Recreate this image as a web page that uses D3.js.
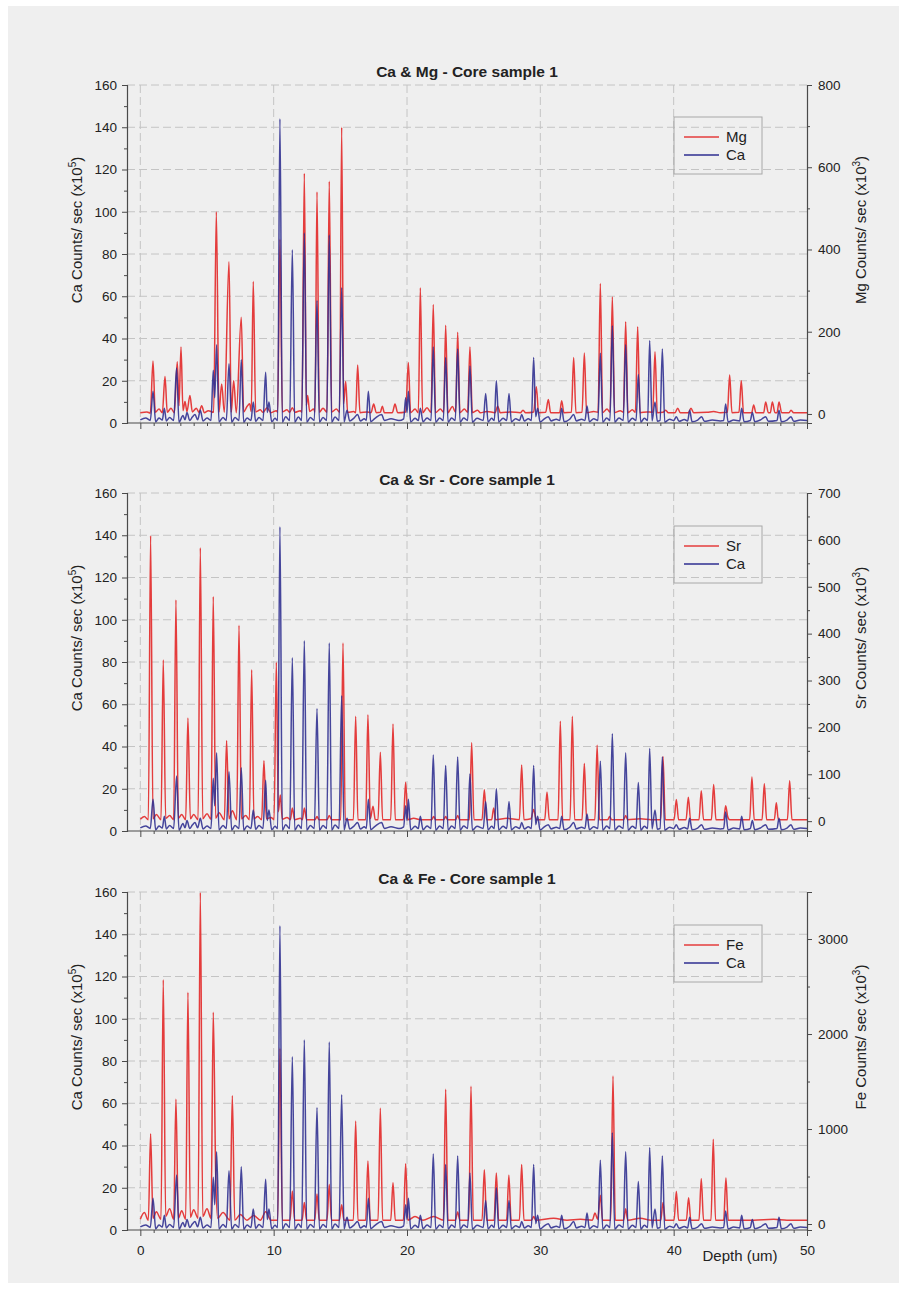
<!DOCTYPE html>
<html>
<head>
<meta charset="utf-8">
<script src="https://cdn.jsdelivr.net/npm/d3@7"></script>
<style>
  html, body { margin: 0; padding: 0; background: #ffffff; }
  svg { display: block; font-family: "Liberation Sans", Arial, sans-serif; }
</style>
</head>
<body>
<svg id="chart" width="907" height="1289"></svg>
<script>
// Depth axis (um)
const depthDomain = [-1, 50];
const depthMajorTicks = [0, 10, 20, 30, 40, 50];

// Ca axis (x10^5 counts/sec), shared by every panel
const caDomain = [0, 160];
const caMajorTicks = [0, 20, 40, 60, 80, 100, 120, 140, 160];

// Ca counts/sec (x10^5) against depth (um)
const caSeries = [
  [0,1.5],[0.4,2.4],[0.75,1.2],[0.95,15],[1.15,0.5],[1.4,2.4],[1.65,1.4],[1.8,7],[1.95,1.0],[2.2,2.6],[2.5,1.2],[2.72,26],[2.9,0.4],[3.2,3.5],[3.35,1.5],[3.5,5],[3.7,1.2],[3.9,2.8],[4.1,4],[4.3,1.5],[4.5,6],[4.7,1.0],[5.0,2.4],[5.3,1.2],[5.47,25],[5.58,12],[5.72,37],[5.9,0.5],[6.2,2.6],[6.45,1.2],[6.65,28],[6.85,0.4],[7.1,2.6],[7.4,1.2],[7.57,30],[7.75,0.4],[8.0,2.4],[8.3,1.2],[8.47,10],[8.65,0.8],[8.9,2.6],[9.2,1.2],[9.4,24],[9.52,5],[9.65,10],[9.85,0.6],[10.1,2.2],[10.3,1.2],[10.47,144],[10.65,0.4],[10.9,3.0],[11.2,1.2],[11.4,82],[11.58,0.4],[11.85,2.8],[12.1,1.2],[12.3,90],[12.48,0.4],[12.75,2.6],[13.05,1.2],[13.25,58],[13.43,0.4],[13.7,2.6],[13.98,1.2],[14.17,89],[14.35,0.4],[14.6,2.8],[14.9,1.2],[15.1,64],[15.28,0.5],[15.5,6],[15.7,1.0],[16.0,2.2],[16.3,4],[16.5,1.0],[16.8,2.0],[16.95,1.2],[17.1,15],[17.28,0.6],[17.6,2.2],[18.1,4],[18.3,1.2],[18.8,2.0],[19.4,1.2],[19.75,2],[19.9,12],[20.0,5],[20.1,15],[20.28,0.5],[20.6,2.2],[20.85,1.2],[21.0,7],[21.2,0.6],[21.5,2.4],[21.8,1.2],[21.97,36],[22.15,0.4],[22.45,2.4],[22.72,1.2],[22.9,31],[23.08,0.4],[23.35,2.4],[23.62,1.2],[23.8,35],[23.98,0.4],[24.25,2.4],[24.55,1.2],[24.72,27],[24.9,0.4],[25.25,2.2],[25.72,1.2],[25.9,14],[26.08,0.5],[26.35,2.2],[26.55,1.2],[26.7,20],[26.88,0.5],[27.2,2.2],[27.48,1.2],[27.65,14],[27.83,0.5],[28.15,2.0],[28.45,1.2],[28.6,4],[28.8,1.0],[29.1,2.0],[29.33,1.2],[29.5,31],[29.65,3],[29.8,7],[29.98,0.5],[30.3,2.0],[30.6,3],[30.8,1.0],[31.2,1.8],[31.45,1.2],[31.6,7],[31.78,0.6],[32.2,1.8],[32.5,4],[32.7,1.0],[33.1,1.8],[33.35,1.2],[33.5,8],[33.68,0.6],[34.0,2.0],[34.32,1.2],[34.5,33],[34.68,0.4],[34.98,2.4],[35.22,1.2],[35.4,46],[35.58,0.4],[35.9,2.4],[36.22,1.2],[36.4,37],[36.58,0.4],[36.9,2.2],[37.18,1.2],[37.35,23],[37.53,0.4],[37.8,2.2],[38.05,1.2],[38.2,39],[38.38,1.0],[38.6,10],[38.78,0.8],[38.98,1.2],[39.15,35],[39.33,0.4],[39.7,1.8],[40.0,1.2],[40.2,3],[40.4,0.8],[40.8,1.6],[41.05,1.0],[41.2,6],[41.38,0.6],[41.8,1.4],[42.1,3],[42.3,0.8],[42.9,1.4],[43.5,1.0],[43.75,1.2],[43.9,9],[44.08,0.5],[44.5,1.4],[44.95,1.0],[45.1,7],[45.28,0.6],[45.75,1.2],[45.9,5],[46.08,0.6],[46.5,1.4],[46.9,3],[47.1,0.8],[47.75,1.2],[47.9,6],[48.08,0.6],[48.5,1.4],[48.8,3],[49.0,0.8],[49.5,1.4],[50,1.2]
];

// Mg counts/sec (x10^3) against depth (um)
const mgSeries = [
  [0,3],[0.5,5],[0.75,2],[0.95,129],[1.12,4],[1.4,12],[1.65,3],[1.85,91],[2.02,4],[2.3,14],[2.55,3],[2.77,127],[2.9,20],[3.05,163],[3.2,8],[3.35,30],[3.5,6],[3.72,45],[3.9,5],[4.2,14],[4.4,4],[4.6,20],[4.8,3],[5.1,8],[5.5,4],[5.7,492],[5.9,5],[6.1,73],[6.3,4],[6.65,370],[6.82,4],[7.0,81],[7.2,3],[7.57,235],[7.75,5],[8.0,18],[8.2,25],[8.32,6],[8.47,322],[8.65,5],[9.0,10],[9.2,4],[9.5,15],[9.8,3],[10.2,8],[10.3,4],[10.47,425],[10.65,5],[11.0,10],[11.2,4],[11.4,15],[11.6,4],[12.0,8],[12.12,4],[12.3,585],[12.45,20],[12.55,45],[12.7,6],[13.0,12],[13.1,4],[13.25,540],[13.42,4],[13.7,14],[14.0,4],[14.17,566],[14.35,5],[14.7,12],[14.95,4],[15.1,697],[15.25,25],[15.4,79],[15.55,4],[16.0,6],[16.15,3],[16.3,119],[16.47,3],[17.0,5],[17.3,3],[17.5,24],[17.7,3],[18.0,4],[18.15,19],[18.3,3],[18.9,3],[19.1,24],[19.3,3],[19.9,5],[20.1,125],[20.27,3],[20.6,12],[20.85,3],[21.0,307],[21.17,3],[21.5,15],[21.8,4],[21.97,266],[22.14,3],[22.5,12],[22.75,4],[22.9,216],[23.07,3],[23.4,18],[23.65,4],[23.8,199],[23.97,3],[24.3,12],[24.55,4],[24.72,163],[24.9,3],[25.3,9],[25.5,3],[26.0,6],[26.6,3],[26.8,19],[27.0,3],[27.8,5],[28.5,3],[28.7,9],[28.9,3],[29.5,5],[29.7,66],[29.87,3],[30.4,4],[30.6,35],[30.77,3],[31.45,3],[31.6,32],[31.77,3],[32.33,4],[32.5,137],[32.67,3],[33.13,4],[33.3,148],[33.47,3],[34.0,6],[34.33,4],[34.5,317],[34.67,3],[35.0,12],[35.23,4],[35.4,285],[35.57,3],[36.0,8],[36.23,4],[36.4,224],[36.57,3],[36.9,10],[37.13,4],[37.3,212],[37.47,3],[38.0,5],[38.43,4],[38.6,151],[38.77,3],[39.2,4],[39.4,9],[39.6,3],[40.1,3],[40.3,14],[40.5,3],[41.1,3],[41.3,14],[41.5,3],[42.5,4],[43.0,6],[43.5,3],[44.03,4],[44.2,95],[44.37,3],[44.9,4],[45.07,81],[45.24,3],[45.85,3],[46.0,22],[46.17,3],[46.75,3],[46.9,29],[47.1,3],[47.25,3],[47.4,29],[47.6,3],[47.75,3],[47.9,29],[48.1,3],[48.65,3],[48.8,9],[49.0,3],[50,3]
];

// Sr counts/sec (x10^3) against depth (um)
const srSeries = [
  [0,4],[0.3,10],[0.6,3],[0.77,609],[0.95,5],[1.2,14],[1.55,3],[1.72,344],[1.9,6],[2.2,12],[2.5,3],[2.67,472],[2.85,6],[3.1,14],[3.4,3],[3.57,220],[3.75,5],[4.0,14],[4.33,3],[4.5,583],[4.68,5],[5.0,16],[5.3,4],[5.47,479],[5.65,6],[5.9,18],[6.3,3],[6.47,172],[6.65,5],[6.9,22],[7.23,3],[7.4,418],[7.58,5],[7.9,12],[8.18,3],[8.35,323],[8.52,5],[8.8,10],[9.1,3],[9.27,129],[9.45,5],[9.8,8],[10.03,3],[10.2,339],[10.35,20],[10.5,56],[10.65,4],[11.0,8],[11.25,3],[11.4,28],[11.57,3],[12.0,6],[12.15,3],[12.3,28],[12.47,3],[13.1,3],[13.25,10],[13.4,3],[14.0,3],[14.17,12],[14.35,3],[15.03,3],[15.2,380],[15.37,3],[15.98,3],[16.15,224],[16.32,3],[16.9,3],[17.07,227],[17.25,5],[17.45,32],[17.62,3],[17.83,3],[18.0,147],[18.17,3],[18.78,3],[18.95,207],[19.12,3],[19.73,3],[19.9,83],[20.07,3],[20.5,6],[21.0,3],[21.85,3],[22.0,10],[22.15,3],[22.75,3],[22.9,10],[23.05,3],[23.65,3],[23.8,12],[23.95,3],[24.68,3],[24.85,167],[25.02,3],[25.63,3],[25.8,67],[25.97,3],[26.35,3],[26.5,28],[26.65,3],[27.5,6],[28.43,3],[28.6,120],[28.77,3],[29.3,5],[29.5,25],[29.7,3],[30.33,3],[30.5,62],[30.67,3],[31.33,3],[31.5,213],[31.67,3],[32.23,3],[32.4,224],[32.57,3],[33.13,3],[33.3,123],[33.47,3],[34.09,3],[34.26,162],[34.43,3],[35.05,3],[35.2,10],[35.35,3],[36.25,3],[36.4,12],[36.55,3],[37.5,5],[38.3,3],[39.03,3],[39.2,138],[39.37,3],[40.03,3],[40.2,46],[40.37,3],[40.93,3],[41.1,51],[41.27,3],[41.9,3],[42.07,65],[42.24,3],[42.83,3],[43.0,78],[43.17,3],[43.75,3],[43.9,33],[44.05,10],[44.2,3],[45.7,3],[45.87,94],[46.04,3],[46.63,3],[46.8,80],[46.97,3],[47.55,3],[47.7,39],[47.85,3],[48.53,3],[48.7,86],[48.87,3],[50,3]
];

// Fe counts/sec (x10^3) against depth (um)
const feSeries = [
  [0,50],[0.3,120],[0.6,40],[0.77,951],[0.95,60],[1.2,130],[1.55,50],[1.72,2572],[1.9,80],[2.2,160],[2.5,50],[2.67,1317],[2.85,60],[3.1,140],[3.4,50],[3.57,2439],[3.75,70],[4.0,150],[4.33,60],[4.5,3490],[4.68,80],[5.0,160],[5.3,60],[5.47,2228],[5.65,540],[5.8,60],[6.2,120],[6.72,40],[6.9,1354],[7.08,40],[7.5,100],[8.0,40],[8.5,90],[9.0,40],[9.4,130],[9.8,40],[10.3,40],[10.47,1850],[10.65,40],[11.23,40],[11.4,348],[11.57,40],[12.13,40],[12.3,226],[12.47,40],[13.08,40],[13.25,315],[13.42,40],[14.0,40],[14.17,415],[14.34,40],[14.93,40],[15.1,204],[15.27,40],[15.98,40],[16.15,1085],[16.32,40],[16.9,40],[17.07,664],[17.24,40],[17.83,40],[18.0,1222],[18.17,40],[18.78,40],[18.95,435],[19.12,40],[19.73,40],[19.9,635],[20.07,40],[20.6,80],[21.2,40],[22.0,80],[22.73,40],[22.9,1418],[23.07,40],[23.63,40],[23.8,126],[23.97,40],[24.63,40],[24.8,1450],[24.97,40],[25.63,40],[25.8,571],[25.97,40],[26.53,40],[26.7,537],[26.87,40],[27.47,40],[27.64,513],[27.81,40],[28.43,40],[28.6,626],[28.77,40],[29.35,40],[29.5,80],[29.65,40],[31.0,60],[32.0,40],[33.0,50],[33.9,40],[34.1,115],[34.3,50],[34.5,302],[34.67,40],[35.28,40],[35.45,1558],[35.62,40],[36.25,40],[36.4,160],[36.55,40],[37.5,60],[38.3,40],[39.03,40],[39.2,226],[39.37,40],[40.03,40],[40.2,344],[40.37,40],[40.95,40],[41.12,277],[41.29,40],[41.9,40],[42.07,477],[42.24,40],[42.8,40],[42.97,893],[43.14,40],[43.75,40],[43.92,484],[44.09,40],[45,40],[46,40],[47.5,50],[48.5,40],[50,40]
];

// Right-hand axis ranges and ticks for each element
const mgDomain = [-22, 800];
const mgMajorTicks = [0, 200, 400, 600, 800];
const mgMinorTicks = [100, 300, 500, 700];
const srDomain = [-21, 700];
const srMajorTicks = [0, 100, 200, 300, 400, 500, 600, 700];
const srMinorTicks = [50, 150, 250, 350, 450, 550, 650];
const feDomain = [-63, 3495];
const feMajorTicks = [0, 1000, 2000, 3000];
const feMinorTicks = [500, 1500, 2500];

const RED = "#e43c3c";
const BLUE = "#2e2e90";
const AXIS = "#4a4a4a";
const GRID = "#c4c4c4";
const TEXT = "#222222";

const panels = [
  { title: "Ca & Mg - Core sample 1", element: "Mg", series: mgSeries,
    domain: mgDomain, major: mgMajorTicks, minor: mgMinorTicks,
    top: 85, bottom: 423, xLabels: false, legendTop: 117 },
  { title: "Ca & Sr - Core sample 1", element: "Sr", series: srSeries,
    domain: srDomain, major: srMajorTicks, minor: srMinorTicks,
    top: 493, bottom: 831, xLabels: false, legendTop: 526 },
  { title: "Ca & Fe - Core sample 1", element: "Fe", series: feSeries,
    domain: feDomain, major: feMajorTicks, minor: feMinorTicks,
    top: 892, bottom: 1230, xLabels: true, legendTop: 925 }
];

const svg = d3.select("#chart");
svg.append("rect").attr("x", 0).attr("y", 0).attr("width", 907).attr("height", 1289).attr("fill", "#ffffff");
svg.append("rect").attr("x", 8).attr("y", 6).attr("width", 891).attr("height", 1277).attr("fill", "#efefef");

const left = 127, right = 807;
const x = d3.scaleLinear().domain(depthDomain).range([left, right]);
const intFmt = d3.format("d");

panels.forEach((p, i) => {
  const g = svg.append("g");
  const yCa = d3.scaleLinear().domain(caDomain).range([p.bottom, p.top]);
  const yEl = d3.scaleLinear().domain(p.domain).range([p.bottom, p.top]);

  // dashed grid
  g.append("g").selectAll("line").data(caMajorTicks.filter(v => v > 0)).join("line")
    .attr("x1", left).attr("x2", right)
    .attr("y1", d => yCa(d)).attr("y2", d => yCa(d))
    .attr("stroke", GRID).attr("stroke-width", 1).attr("stroke-dasharray", "8,4");
  g.append("g").selectAll("line").data(depthMajorTicks.filter(v => v < 50)).join("line")
    .attr("x1", d => x(d)).attr("x2", d => x(d))
    .attr("y1", p.top).attr("y2", p.bottom)
    .attr("stroke", GRID).attr("stroke-width", 1).attr("stroke-dasharray", "8,4");

  // series lines
  const clipId = "clip" + i;
  svg.append("clipPath").attr("id", clipId).append("rect")
    .attr("x", left).attr("y", p.top).attr("width", right - left).attr("height", p.bottom - p.top);
  const lineEl = d3.line().x(d => x(d[0])).y(d => yEl(d[1])).curve(d3.curveMonotoneX);
  const lineCa = d3.line().x(d => x(d[0])).y(d => yCa(d[1])).curve(d3.curveMonotoneX);
  const lines = g.append("g").attr("clip-path", `url(#${clipId})`);
  lines.append("path").attr("d", lineEl(p.series)).attr("fill", "none")
    .attr("stroke", RED).attr("stroke-width", 1.5).attr("stroke-linejoin", "round");
  lines.append("path").attr("d", lineCa(caSeries)).attr("fill", "none")
    .attr("stroke", BLUE).attr("stroke-opacity", 0.88).attr("stroke-width", 1.5).attr("stroke-linejoin", "round");

  // left axis (Ca)
  g.append("g").attr("transform", `translate(${left},0)`)
    .call(d3.axisLeft(yCa).tickValues(caMajorTicks).tickSize(5).tickPadding(5).tickFormat(intFmt));
  g.append("g").attr("transform", `translate(${left},0)`)
    .call(d3.axisLeft(yCa).tickValues(d3.range(10, 160, 20)).tickSize(3).tickFormat(""))
    .call(a => a.select(".domain").remove());

  // right axis (element)
  g.append("g").attr("transform", `translate(${right},0)`)
    .call(d3.axisRight(yEl).tickValues(p.major).tickSize(5).tickPadding(6).tickFormat(intFmt));
  g.append("g").attr("transform", `translate(${right},0)`)
    .call(d3.axisRight(yEl).tickValues(p.minor).tickSize(3).tickFormat(""))
    .call(a => a.select(".domain").remove());

  // bottom axis (depth)
  const axB = g.append("g").attr("transform", `translate(0,${p.bottom})`)
    .call(d3.axisBottom(x).tickValues(depthMajorTicks).tickSize(6).tickPadding(9)
      .tickFormat(p.xLabels ? intFmt : ""));
  g.append("g").attr("transform", `translate(0,${p.bottom})`)
    .call(d3.axisBottom(x).tickValues(d3.range(1, 50, 1).filter(v => v % 10 !== 0)).tickSize(3).tickFormat(""))
    .call(a => a.select(".domain").remove());

  g.selectAll(".domain").attr("stroke", AXIS).attr("stroke-width", 1.2);
  g.selectAll(".tick line").attr("stroke", AXIS).attr("stroke-width", 1);
  g.selectAll(".tick text").attr("fill", TEXT).attr("font-size", 13.5)
    .attr("font-family", "'Liberation Sans', Arial, sans-serif");
  axB.selectAll(".domain").attr("d", `M${left},0H${right}`);

  // title
  g.append("text").attr("x", 467).attr("y", p.top - 8).attr("text-anchor", "middle")
    .attr("font-size", 15.5).attr("font-weight", "bold").attr("fill", TEXT).text(p.title);

  // axis titles
  const midY = (p.top + p.bottom) / 2 - 24;
  const lt = g.append("text").attr("transform", `translate(82,${midY}) rotate(-90)`)
    .attr("text-anchor", "middle").attr("font-size", 15).attr("fill", TEXT);
  lt.append("tspan").text("Ca Counts/ sec (x10");
  lt.append("tspan").attr("dy", -6).attr("font-size", 10).text("5");
  lt.append("tspan").attr("dy", 6).text(")");
  const rt = g.append("text").attr("transform", `translate(866,${midY}) rotate(-90)`)
    .attr("text-anchor", "middle").attr("font-size", 15).attr("fill", TEXT);
  rt.append("tspan").text(p.element + " Counts/ sec (x10");
  rt.append("tspan").attr("dy", -6).attr("font-size", 10).text("3");
  rt.append("tspan").attr("dy", 6).text(")");

  // legend
  const lg = g.append("g").attr("transform", `translate(674,${p.legendTop})`);
  lg.append("rect").attr("width", 88).attr("height", 57).attr("fill", "none")
    .attr("stroke", "#a8a8a8").attr("stroke-width", 1);
  [[p.element, RED, 20], ["Ca", BLUE, 38]].forEach(([name, c, ly]) => {
    lg.append("line").attr("x1", 10).attr("x2", 45).attr("y1", ly).attr("y2", ly)
      .attr("stroke", c).attr("stroke-width", 1.5);
    lg.append("text").attr("x", 52).attr("y", ly + 5).attr("font-size", 15).attr("fill", TEXT).text(name);
  });

  if (p.xLabels) {
    g.append("text").attr("x", 740).attr("y", p.bottom + 31).attr("text-anchor", "middle")
      .attr("font-size", 15).attr("fill", TEXT).text("Depth (um)");
  }
});
</script>
</body>
</html>
